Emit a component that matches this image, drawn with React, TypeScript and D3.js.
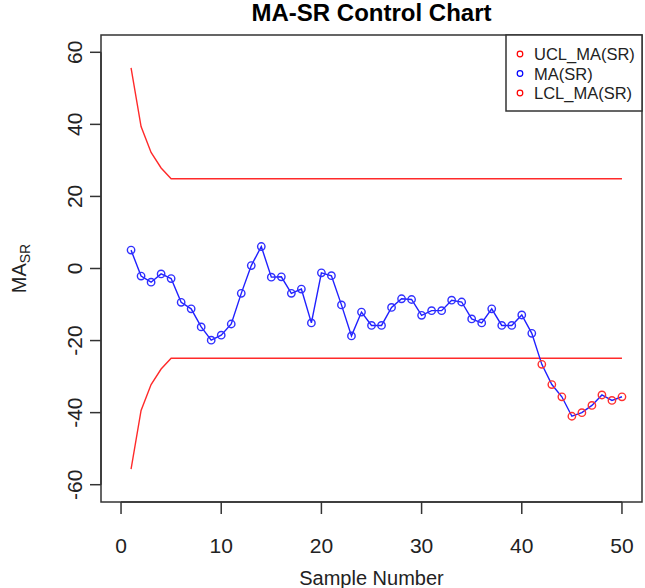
import React from "react";
import * as d3 from "d3";

const sampleNumbers: number[] = Array.from({ length: 50 }, (_, i) => i + 1);

const maValues: number[] = [
  5.1, -2.1, -3.8, -1.5, -2.8, -9.4, -11.2, -16.2, -19.9, -18.5,
  -15.4, -6.9, 0.8, 6.1, -2.4, -2.3, -6.9, -5.7, -15.1, -1.2,
  -2.0, -10.1, -18.7, -12.1, -15.8, -15.8, -10.8, -8.4, -8.6, -13.0,
  -11.7, -11.7, -8.8, -9.3, -14.0, -15.1, -11.2, -15.8, -15.8, -12.9,
  -18.0, -26.6, -32.2, -35.6, -41.0, -40.0, -38.0, -35.1, -36.6, -35.6,
];

const uclValues: number[] = [
  55.7, 39.4, 32.2, 27.9, 24.9, 24.9, 24.9, 24.9, 24.9, 24.9,
  24.9, 24.9, 24.9, 24.9, 24.9, 24.9, 24.9, 24.9, 24.9, 24.9,
  24.9, 24.9, 24.9, 24.9, 24.9, 24.9, 24.9, 24.9, 24.9, 24.9,
  24.9, 24.9, 24.9, 24.9, 24.9, 24.9, 24.9, 24.9, 24.9, 24.9,
  24.9, 24.9, 24.9, 24.9, 24.9, 24.9, 24.9, 24.9, 24.9, 24.9,
];

const lclValues: number[] = [
  -55.7, -39.4, -32.2, -27.9, -24.9, -24.9, -24.9, -24.9, -24.9, -24.9,
  -24.9, -24.9, -24.9, -24.9, -24.9, -24.9, -24.9, -24.9, -24.9, -24.9,
  -24.9, -24.9, -24.9, -24.9, -24.9, -24.9, -24.9, -24.9, -24.9, -24.9,
  -24.9, -24.9, -24.9, -24.9, -24.9, -24.9, -24.9, -24.9, -24.9, -24.9,
  -24.9, -24.9, -24.9, -24.9, -24.9, -24.9, -24.9, -24.9, -24.9, -24.9,
];

const xTicks: number[] = [0, 10, 20, 30, 40, 50];
const yTicks: number[] = [-60, -40, -20, 0, 20, 40, 60];
const legendLabels: string[] = ["UCL_MA(SR)", "MA(SR)", "LCL_MA(SR)"];
const legendColors: string[] = ["#ff0000", "#0000ff", "#ff0000"];

const W = 645;
const H = 588;
const FONT = "'Liberation Sans', Arial, Helvetica, sans-serif";

export default function App() {
  const x = d3.scaleLinear().domain([-2, 52]).range([101, 642]);
  const y = d3.scaleLinear().domain([-64.8, 64.8]).range([502, 35]);

  const line = d3
    .line<number>()
    .x((_, i) => x(sampleNumbers[i]))
    .y((d) => y(d));

  const left = x(-2);
  const right = x(52);
  const top = y(64.8);
  const bottom = y(-64.8);

  const axisColor = "#333";

  return (
    <svg
      width={W}
      height={H}
      style={{ position: "absolute", left: 0, top: 0, background: "#fff" }}
      fontFamily={FONT}
    >
      <rect x={0} y={0} width={W} height={H} fill="#fff" />
      {/* Title */}
      <text
        x={(left + right) / 2}
        y={21}
        textAnchor="middle"
        fontWeight="bold"
        fontSize={24}
        fill="#000"
      >
        MA-SR Control Chart
      </text>

      {/* Control limits */}
      <path d={line(uclValues) || ""} fill="none" stroke="#ff2a2a" strokeWidth={1.4} />
      <path d={line(lclValues) || ""} fill="none" stroke="#ff2a2a" strokeWidth={1.4} />

      {/* MA line */}
      <path d={line(maValues) || ""} fill="none" stroke="#2020ff" strokeWidth={1.4} />
      {maValues.map((v, i) => {
        const out = v > uclValues[i] || v < lclValues[i];
        return (
          <circle
            key={i}
            cx={x(sampleNumbers[i])}
            cy={y(v)}
            r={3.7}
            fill="none"
            stroke={out ? "#ff3030" : "#3030ff"}
            strokeWidth={1.4}
          />
        );
      })}

      {/* Box */}
      <rect
        x={left}
        y={top}
        width={right - left}
        height={bottom - top}
        fill="none"
        stroke={axisColor}
        strokeWidth={1.5}
      />

      {/* X axis */}
      <line x1={x(0)} x2={x(50)} y1={bottom} y2={bottom} stroke={axisColor} strokeWidth={1.5} />
      {xTicks.map((t) => (
        <g key={t}>
          <line x1={x(t)} x2={x(t)} y1={bottom} y2={bottom + 12} stroke={axisColor} strokeWidth={1.5} />
          <text x={x(t)} y={552.5} textAnchor="middle" fontSize={21} fill="#222">
            {t}
          </text>
        </g>
      ))}
      <text x={(left + right) / 2} y={585} textAnchor="middle" fontSize={20} fill="#222">
        Sample Number
      </text>

      {/* Y axis */}
      <line x1={left} x2={left} y1={y(-60)} y2={y(60)} stroke={axisColor} strokeWidth={1.5} />
      {yTicks.map((t) => (
        <g key={t}>
          <line x1={left - 11} x2={left} y1={y(t)} y2={y(t)} stroke={axisColor} strokeWidth={1.5} />
          <text
            transform={`translate(81.5,${y(t)}) rotate(-90)`}
            textAnchor="middle"
            fontSize={21}
            fill="#222"
          >
            {t}
          </text>
        </g>
      ))}
      <text
        transform={`translate(26,${y(0)}) rotate(-90)`}
        textAnchor="middle"
        fontSize={20}
        fill="#222"
      >
        MA
        <tspan fontSize={14} dy={4}>
          SR
        </tspan>
      </text>

      {/* Legend */}
      <rect
        x={506}
        y={top}
        width={right - 506}
        height={76}
        fill="#fff"
        stroke={axisColor}
        strokeWidth={1.5}
      />
      {legendLabels.map((lab, i) => (
        <g key={lab}>
          <circle
            cx={520}
            cy={54 + i * 19.5}
            r={2.8}
            fill="none"
            stroke={legendColors[i]}
            strokeWidth={1.2}
          />
          <text
            x={534}
            y={54 + i * 19.5}
            dominantBaseline="central"
            fontSize={16.5}
            fill="#222"
          >
            {lab}
          </text>
        </g>
      ))}
    </svg>
  );
}
